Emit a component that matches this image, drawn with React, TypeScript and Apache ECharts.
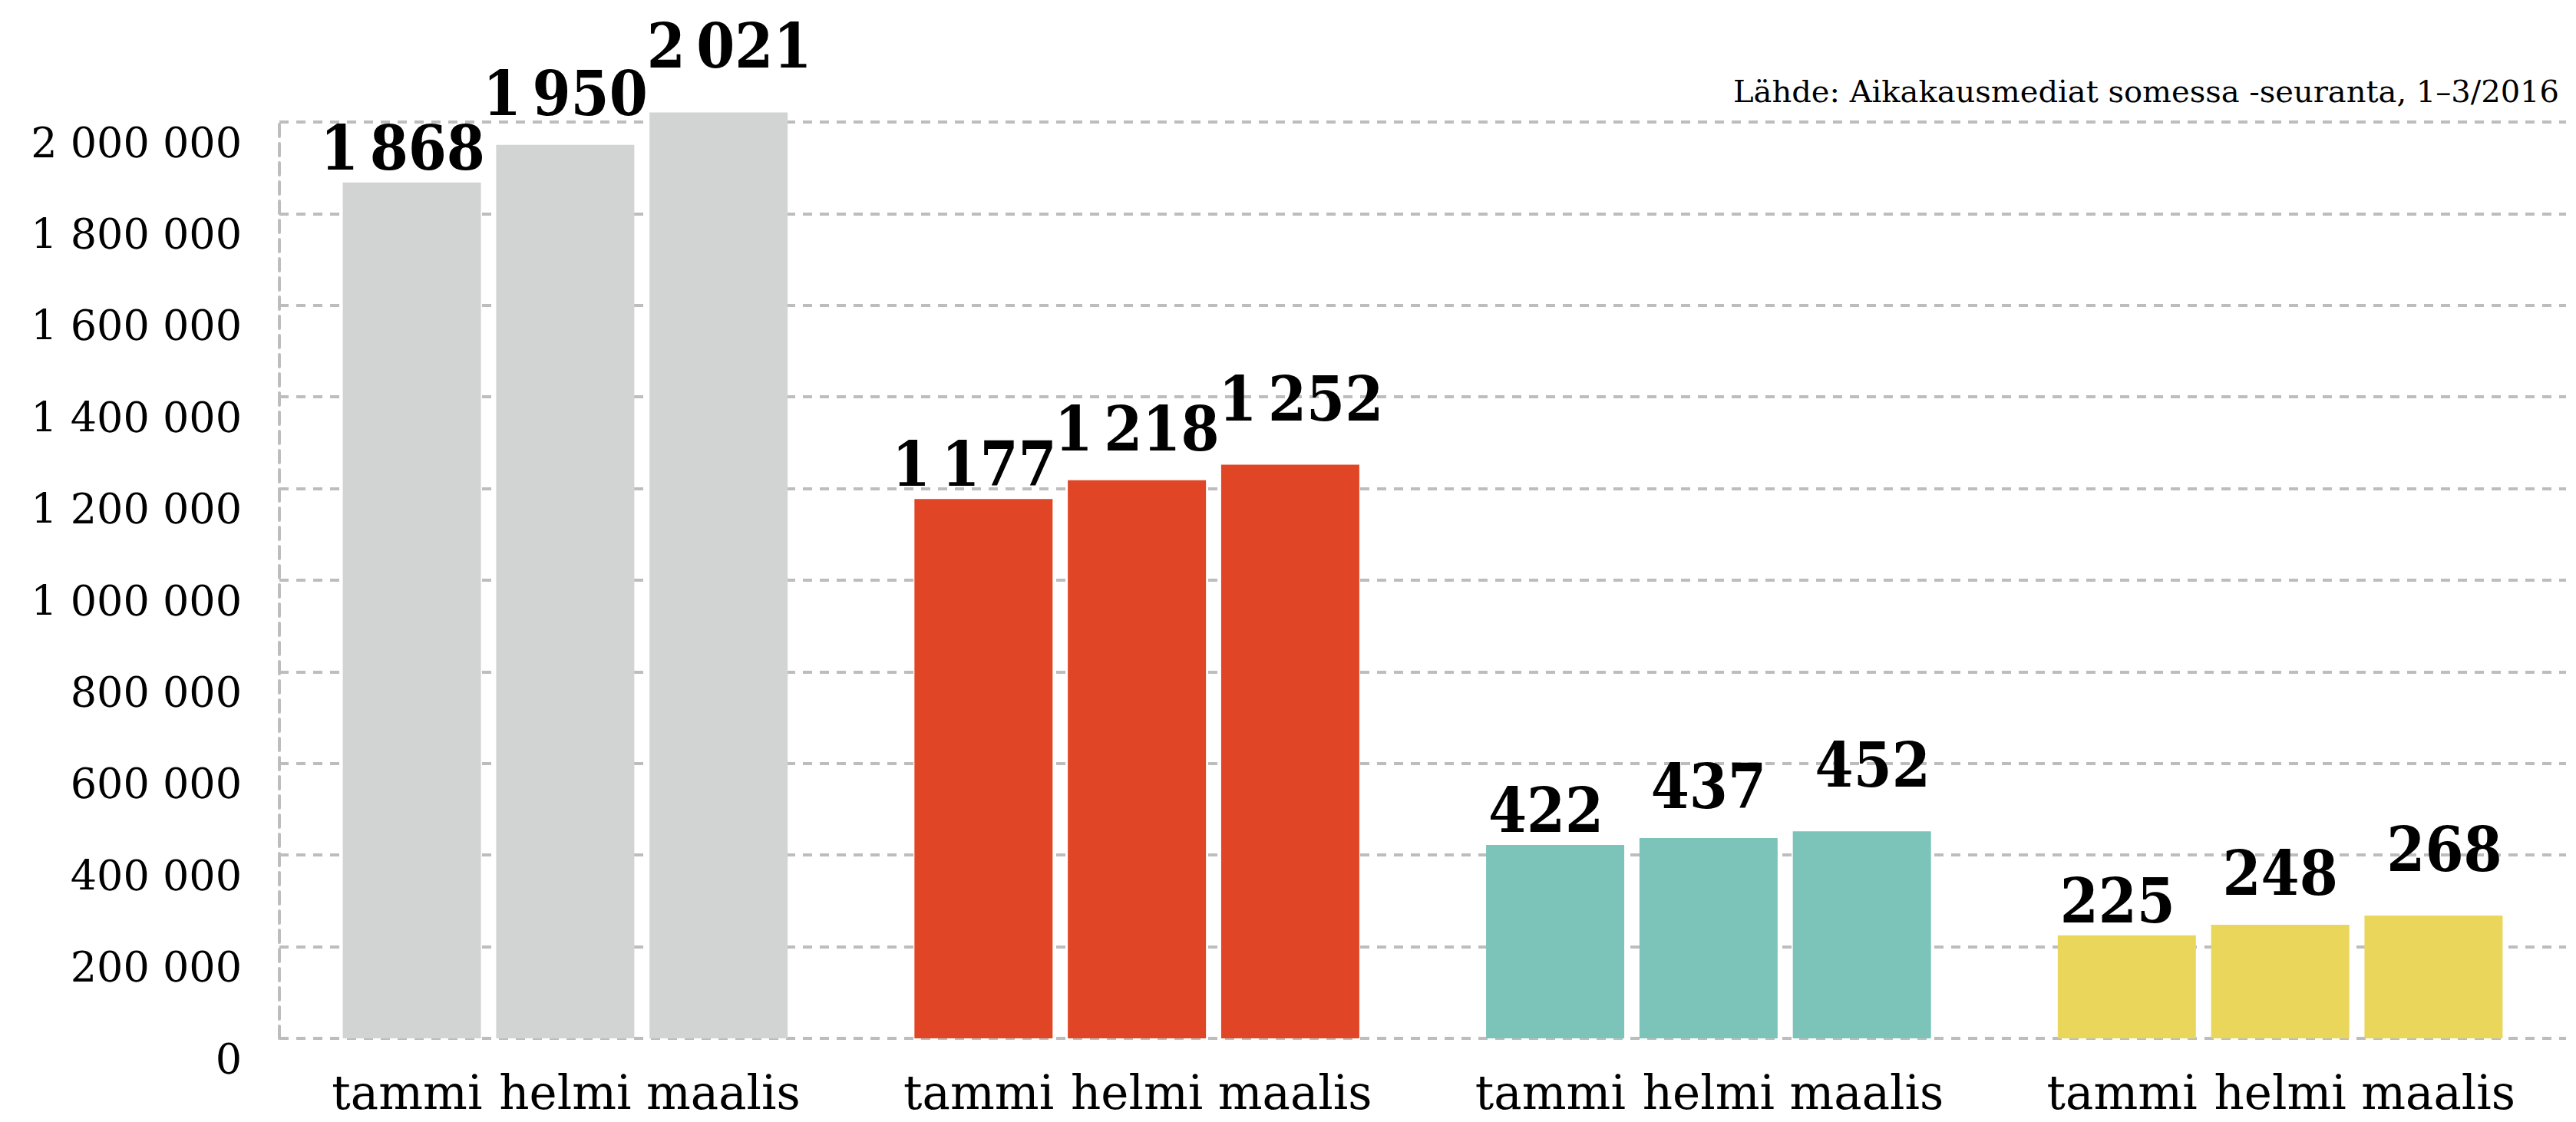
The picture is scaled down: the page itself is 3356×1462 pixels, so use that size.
import React, { useEffect, useRef } from "react";
import * as echarts from "echarts";

// Data (readers per month, groups shown left to right)
const months = ["tammi", "helmi", "maalis"];
const groups = ["A", "B", "C", "D"];
const grayGroup = [1868000, 1950000, 2021000];
const redGroup = [1177000, 1218000, 1252000];
const tealGroup = [422000, 437000, 452000];
const yellowGroup = [225000, 248000, 268000];
const groupValues = [grayGroup, redGroup, tealGroup, yellowGroup];
const groupColors = ["#d2d4d3", "#e04626", "#7cc3b9", "#e9d65a"];
const yTicks = { min: 0, max: 2000000, interval: 200000 };
const sourceText = "Lähde: Aikakausmediat somessa -seuranta, 1–3/2016";

const spaced = (n: number, sep = " ") =>
  String(n).replace(/\B(?=(\d{3})+(?!\d))/g, sep);

export default function App() {
  const ref = useRef<HTMLDivElement>(null);
  useEffect(() => {
    document.body.style.margin = "0";
    const chart = echarts.init(ref.current!, undefined, { renderer: "svg" });
    const labelDistance = [5, 27, 46];
    const labelShift = [-12, 0, 14];
    const rich: Record<string, any> = {};
    months.forEach((m, i) => {
      rich["m" + i] = {
        width: 206,
        align: "center",
        fontFamily: "DejaVu Serif",
        fontSize: 61,
        lineHeight: 56,
        color: "#000",
      };
    });
    const series = months.map((m, mi) => ({
      type: "bar",
      name: m,
      barWidth: 180,
      barGap: "11%",
      clip: false,
      data: groupValues.map((vals, gi) => ({
        value: vals[mi],
        itemStyle: { color: groupColors[gi] },
      })),
      label: {
        show: true,
        position: "top",
        distance: labelDistance[mi],
        offset: [labelShift[mi], 0],
        formatter: (p: any) => spaced(Math.round(p.value / 1000), "\u2009"),
        fontFamily: "DejaVu Serif Condensed, DejaVu Serif",
        fontWeight: "bold",
        fontSize: 80,
        color: "#000",
      },
    }));
    chart.setOption({
      animation: false,
      backgroundColor: "#fff",
      grid: {
        left: 364,
        right: 13,
        top: 159,
        bottom: 109,
        containLabel: false,
        outerBoundsMode: "none",
      },
      xAxis: {
        type: "category",
        data: groups,
        axisLine: { show: false },
        axisTick: { show: false },
        splitLine: { show: false },
        axisLabel: {
          interval: 0,
          hideOverlap: false,
          margin: 42,
          lineHeight: 56,
          fontSize: 61,
          fontFamily: "DejaVu Serif",
          formatter: () => months.map((m, i) => `{m${i}|${m}}`).join(""),
          rich,
        },
      },
      yAxis: {
        type: "value",
        min: yTicks.min,
        max: yTicks.max,
        interval: yTicks.interval,
        axisLine: {
          show: true,
          lineStyle: { color: "#bdbdbd", width: 4, type: [16, 9] },
        },
        axisTick: { show: false },
        splitLine: {
          show: true,
          lineStyle: { color: "#bdbdbd", width: 4, type: [12, 10] },
        },
        axisLabel: {
          margin: 49,
          verticalAlign: "top",
          fontFamily: "DejaVu Serif",
          fontSize: 54,
          color: "#000",
          formatter: (v: number) => spaced(v),
        },
      },
      graphic: [
        {
          type: "text",
          x: 3334,
          y: 119,
          style: {
            text: sourceText,
            align: "right",
            verticalAlign: "middle",
            fontFamily: "DejaVu Serif",
            fontSize: 40,
            fill: "#000",
          },
        },
      ],
      series,
    });
    return () => chart.dispose();
  }, []);
  return <div ref={ref} style={{ width: 3356, height: 1462 }} />;
}
